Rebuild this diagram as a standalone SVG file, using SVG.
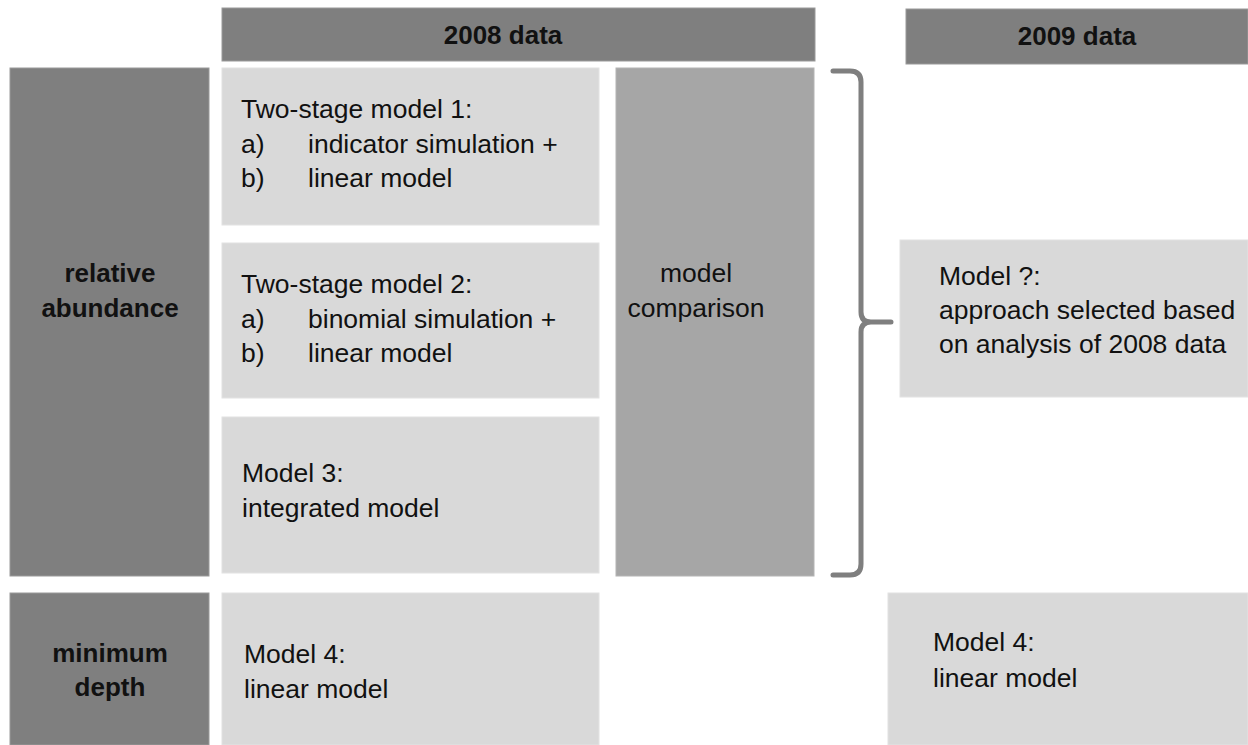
<svg xmlns="http://www.w3.org/2000/svg" width="1248" height="745" viewBox="0 0 1248 745">
<style>
.dark{fill:#7f7f7f;stroke:#9a9a9a;stroke-width:1}
.mid{fill:#a6a6a6;stroke:#b4b4b4;stroke-width:1}
.light{fill:#d9d9d9;stroke:#e2e2e2;stroke-width:1}
text{font-family:"Liberation Sans",Arial,sans-serif;font-size:26.5px;fill:#111}
.b{font-weight:bold;text-anchor:middle;font-size:26px}
.c{text-anchor:middle}
.brace{fill:none;stroke:#7f7f7f;stroke-width:5;stroke-linecap:round;stroke-linejoin:round}
</style>
<rect width="1248" height="745" fill="#ffffff"/>
<g id="hdr2008"><rect class="dark" x="222" y="8" width="593" height="53"/><text class="b" x="503" y="44">2008 data</text></g>
<g id="hdr2009"><rect class="dark" x="906" y="9" width="342" height="55"/><text class="b" x="1077" y="45">2009 data</text></g>
<g id="relabund"><rect class="dark" x="10" y="68" width="199" height="508"/><text class="b" x="110" y="282">relative</text><text class="b" x="110" y="317">abundance</text></g>
<g id="mindepth"><rect class="dark" x="10" y="593" width="199" height="152"/><text class="b" x="110" y="662">minimum</text><text class="b" x="110" y="696">depth</text></g>
<g id="m1"><rect class="light" x="222" y="68" width="377" height="157"/><text x="241" y="118">Two-stage model 1:</text><text x="241" y="153">a)</text><text x="308" y="153">indicator simulation +</text><text x="241" y="187">b)</text><text x="308" y="187">linear model</text></g>
<g id="m2"><rect class="light" x="222" y="243" width="377" height="155"/><text x="241" y="293">Two-stage model 2:</text><text x="241" y="328">a)</text><text x="308" y="328">binomial simulation +</text><text x="241" y="362">b)</text><text x="308" y="362">linear model</text></g>
<g id="m3"><rect class="light" x="222" y="417" width="377" height="156"/><text x="242" y="482">Model 3:</text><text x="242" y="517">integrated model</text></g>
<g id="cmp"><rect class="mid" x="616" y="68" width="198" height="508"/><text class="c" x="696" y="282">model</text><text class="c" x="696" y="317">comparison</text></g>
<g id="m4a"><rect class="light" x="222" y="593" width="377" height="152"/><text x="244" y="663">Model 4:</text><text x="244" y="698">linear model</text></g>
<g id="mq"><rect class="light" x="900" y="240" width="348" height="157"/><text x="939" y="285">Model ?:</text><text x="939" y="319">approach selected based</text><text x="939" y="353">on analysis of 2008 data</text></g>
<g id="m4b"><rect class="light" x="888" y="593" width="360" height="152"/><text x="933" y="651">Model 4:</text><text x="933" y="687">linear model</text></g>
<g id="connectors"><path class="brace" d="M833,71 L850,71 Q861,71 861,82 L861,312 Q861,322 871,322 L891,322 M871,322 Q861,322 861,332 L861,564 Q861,575 850,575 L833,575"/></g>
</svg>
